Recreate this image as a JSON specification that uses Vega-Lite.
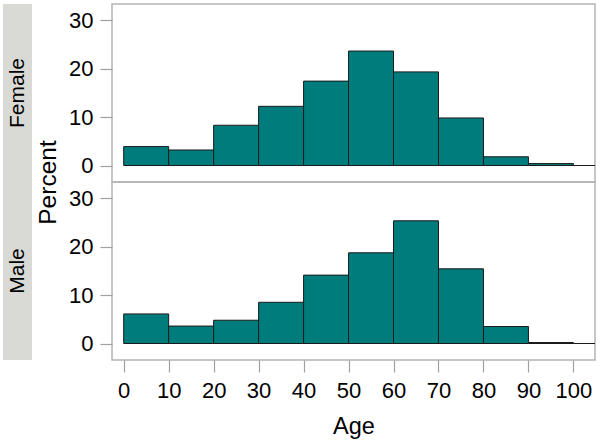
{
  "$schema": "https://vega.github.io/schema/vega-lite/v6.json",
  "padding": {"left": 3, "top": 3, "right": 5, "bottom": 3},
  "background": "white",
  "bounds": "flush",
  "columns": 2,
  "spacing": {"row": 0, "column": 80},
  "datasets": {
    "hist": [
      {"sex": "Female", "start": 0, "end": 10, "pct": 3.9},
      {"sex": "Female", "start": 10, "end": 20, "pct": 3.2},
      {"sex": "Female", "start": 20, "end": 30, "pct": 8.3},
      {"sex": "Female", "start": 30, "end": 40, "pct": 12.2},
      {"sex": "Female", "start": 40, "end": 50, "pct": 17.4},
      {"sex": "Female", "start": 50, "end": 60, "pct": 23.6},
      {"sex": "Female", "start": 60, "end": 70, "pct": 19.3},
      {"sex": "Female", "start": 70, "end": 80, "pct": 9.8},
      {"sex": "Female", "start": 80, "end": 90, "pct": 1.8},
      {"sex": "Female", "start": 90, "end": 100, "pct": 0.4},
      {"sex": "Female", "start": 100, "end": 110, "pct": 0},
      {"sex": "Male", "start": 0, "end": 10, "pct": 6.1},
      {"sex": "Male", "start": 10, "end": 20, "pct": 3.6},
      {"sex": "Male", "start": 20, "end": 30, "pct": 4.8},
      {"sex": "Male", "start": 30, "end": 40, "pct": 8.5},
      {"sex": "Male", "start": 40, "end": 50, "pct": 14.1},
      {"sex": "Male", "start": 50, "end": 60, "pct": 18.7},
      {"sex": "Male", "start": 60, "end": 70, "pct": 25.3},
      {"sex": "Male", "start": 70, "end": 80, "pct": 15.4},
      {"sex": "Male", "start": 80, "end": 90, "pct": 3.5},
      {"sex": "Male", "start": 90, "end": 100, "pct": 0.2},
      {"sex": "Male", "start": 100, "end": 110, "pct": 0}
    ]
  },
  "concat": [
    {
      "width": 29, "height": 178,
      "view": {"fill": "#d9dad5", "stroke": null},
      "data": {"values": [{"panel": "Female"}]},
      "mark": {"type": "text", "angle": 270, "fontSize": 21, "font": "Liberation Sans", "color": "#000000", "baseline": "middle", "align": "center"},
      "encoding": {"text": {"field": "panel"}}
    },
    {
      "width": 483, "height": 178,
      "view": {"stroke": "#b4b4b4", "strokeWidth": 1.5},
      "data": {"name": "hist"},
      "transform": [{"filter": "datum.sex === 'Female'"}],
      "mark": {"type": "bar", "fill": "#007c7c", "stroke": "#1a1a1a", "strokeWidth": 1, "clip": true},
      "encoding": {
        "x": {"field": "start", "type": "quantitative", "scale": {"domain": [-2.6, 104.8], "nice": false, "zero": false}, "axis": null},
        "x2": {"field": "end"},
        "y": {"field": "pct", "type": "quantitative", "scale": {"domain": [-3.4, 33.3], "nice": false, "zero": false},
          "axis": {"values": [0, 10, 20, 30], "title": "Percent", "titleY": 178, "titlePadding": 8, "titleFontSize": 24.5}},
        "y2": {"datum": 0}
      }
    },
    {
      "width": 29, "height": 178,
      "view": {"fill": "#d9dad5", "stroke": null},
      "data": {"values": [{"panel": "Male"}]},
      "mark": {"type": "text", "angle": 270, "fontSize": 21, "font": "Liberation Sans", "color": "#000000", "baseline": "middle", "align": "center"},
      "encoding": {"text": {"field": "panel"}}
    },
    {
      "width": 483, "height": 178,
      "view": {"stroke": "#b4b4b4", "strokeWidth": 1.5},
      "data": {"name": "hist"},
      "transform": [{"filter": "datum.sex === 'Male'"}],
      "mark": {"type": "bar", "fill": "#007c7c", "stroke": "#1a1a1a", "strokeWidth": 1, "clip": true},
      "encoding": {
        "x": {"field": "start", "type": "quantitative", "scale": {"domain": [-2.6, 104.8], "nice": false, "zero": false},
          "axis": {"values": [0, 10, 20, 30, 40, 50, 60, 70, 80, 90, 100], "title": "Age", "titlePadding": 13, "titleFontSize": 23.5, "labelPadding": 8, "labelBaseline": "top"}},
        "x2": {"field": "end"},
        "y": {"field": "pct", "type": "quantitative", "scale": {"domain": [-3.4, 33.3], "nice": false, "zero": false},
          "axis": {"values": [0, 10, 20, 30], "title": null}},
        "y2": {"datum": 0}
      }
    }
  ],
  "config": {
    "axis": {
      "domain": false,
      "grid": false,
      "tickSize": 12,
      "tickColor": "#a0a0a0",
      "tickWidth": 1.2,
      "labelFont": "Liberation Sans",
      "labelFontSize": 22,
      "labelColor": "#000000",
      "labelPadding": 7,
      "labelFlush": false,
      "labelOverlap": false,
      "titleFont": "Liberation Sans",
      "titleFontWeight": "normal",
      "titleColor": "#000000"
    }
  }
}
